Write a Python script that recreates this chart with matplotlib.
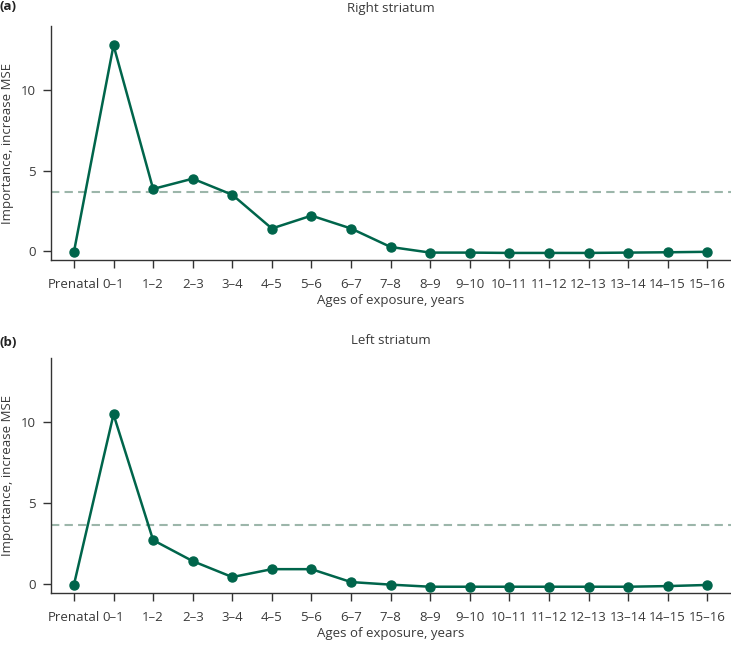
import matplotlib
matplotlib.use("Agg")
import matplotlib.pyplot as plt
import numpy as np

ages = ["Prenatal", "0–1", "1–2", "2–3", "3–4", "4–5", "5–6", "6–7", "7–8", "8–9",
        "9–10", "10–11", "11–12", "12–13", "13–14", "14–15", "15–16"]
right_striatum = [-0.05, 12.8, 3.86, 4.5, 3.5, 1.4, 2.2, 1.4, 0.25, -0.1,
                  -0.1, -0.12, -0.12, -0.12, -0.1, -0.08, -0.05]
left_striatum = [-0.06, 10.5, 2.7, 1.4, 0.41, 0.9, 0.9, 0.1, -0.06, -0.19,
                 -0.19, -0.19, -0.19, -0.19, -0.19, -0.15, -0.08]
threshold_right = 3.68
threshold_left = 3.66

plt.rcParams['font.family'] = ['Open Sans', 'DejaVu Sans']

LINE = "#00654b"
DASH = "#9cb6aa"
TXT = "#3a3a3a"

fig = plt.figure(figsize=(7.31, 6.45), dpi=100)
W, H = 731, 645

def make_axes(top_px, bottom_px):
    return fig.add_axes([51 / W, 1 - bottom_px / H, 1 - 51 / W, (bottom_px - top_px) / H])

panels = [
    (make_axes(26, 260), right_striatum, threshold_right, "Right striatum", "(a)", 7),
    (make_axes(358, 592.7), left_striatum, threshold_left, "Left striatum", "(b)", 343),
]

x = np.arange(len(ages))
for ax, vals, thr, title, lab, lab_y in panels:
    ax.axhline(thr, color=DASH, lw=1.5, ls=(0, (4, 2.5)), zorder=1)
    ax.plot(x, vals, color=LINE, lw=1.8, marker="o", ms=6.5, zorder=3)
    ax.set_xlim(-0.58, 16.6)
    ax.set_ylim(-0.56, 14.0)
    ax.set_yticks([0, 5, 10])
    ax.set_xticks(x)
    ax.set_xticklabels(ages)
    for s in ["top", "right"]:
        ax.spines[s].set_visible(False)
    for s in ["left", "bottom"]:
        ax.spines[s].set_color("#333333")
        ax.spines[s].set_linewidth(1.0)
    ax.tick_params(axis="both", direction="out", length=6, width=1.0, color="#333333",
                   labelsize=9.5, labelcolor=TXT)
    ax.tick_params(axis="x", pad=7)
    ax.tick_params(axis="y", pad=5)
    ax.set_ylabel("Importance, increase MSE", fontsize=9.5, color=TXT)
    ax.yaxis.set_label_coords(-37 / 680, 0.5)
    ax.set_xlabel("Ages of exposure, years", fontsize=9.5, color=TXT, labelpad=2)
    ax.set_title(title, fontsize=9.5, color=TXT, pad=10)
    fig.text(0 / W, 1 - lab_y / H, lab, fontsize=9.5, fontweight="bold", color="#222222",
             ha="left", va="center")

fig.savefig("out.png", dpi=100)
